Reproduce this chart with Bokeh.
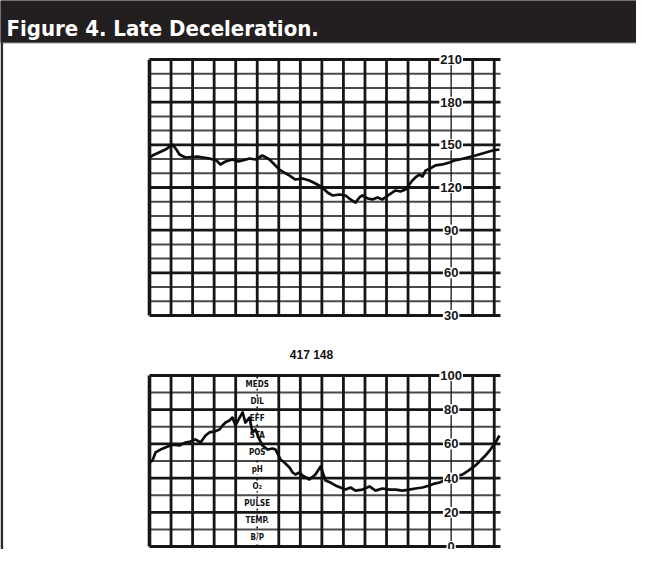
import numpy as np
from bokeh.plotting import figure
from bokeh.models import Range1d
from bokeh.core.properties import value
from bokeh.embed import file_html
from bokeh.resources import INLINE

# ---------------- data ----------------
title_text = "Figure 4. Late Deceleration."
strip_code = "417 148"

# fetal heart rate trace (time in s, bpm)
fhr_time = [0, 1.4, 7.4, 10.7, 12.5, 13.9, 16.7, 22.3, 27.8, 31.1, 32.9, 35.3, 38.5, 41.3,
            43.2, 46.4, 49.2, 52.4, 55.7, 58.0, 60.3, 62.6, 65.0, 67.7, 71.0, 74.2, 77.0,
            80.3, 82.6, 84.9, 88.2, 91.0, 93.3, 95.6, 97.4, 98.8, 101.2, 103.5, 105.8,
            108.1, 111.4, 114.2, 116.5, 118.8, 120.6, 122.0, 123.9, 125.3, 126.7, 128.1,
            130.4, 132.7, 136.0, 139.2, 141.5, 143.9, 147.6, 151.3, 154.5, 159.2, 162.4]
fhr_bpm = [141.1, 142.5, 146.7, 150.2, 146.7, 143.2, 141.1, 141.8, 140.4, 139.0, 136.2,
           138.3, 139.7, 138.3, 139.0, 140.4, 139.7, 142.5, 139.7, 136.2, 132.6, 130.5,
           128.4, 125.6, 126.3, 124.9, 122.8, 120.0, 116.5, 114.4, 115.1, 114.4, 111.6,
           109.4, 113.0, 114.4, 112.3, 111.6, 113.0, 111.6, 115.1, 117.9, 117.2, 118.6,
           122.1, 124.9, 127.7, 129.1, 127.7, 131.9, 133.4, 135.5, 136.2, 137.6, 139.0,
           139.7, 141.1, 142.5, 143.9, 146.0, 146.7]

# uterine activity trace (time in s, value)
uc_time = [0, 1.4, 2.8, 5.1, 7.4, 10.7, 13.9, 16.7, 19.0, 21.3, 23.7, 26.0, 27.8, 30.2,
           32.5, 33.9, 35.3, 37.1, 38.5, 39.9, 41.8, 43.2, 44.5, 46.4, 47.8, 49.2, 51.0,
           52.4, 54.8, 57.1, 58.5, 60.8, 62.6, 65.0, 66.4, 67.7, 69.6, 71.0, 74.2, 77.0,
           79.4, 81.7, 84.0, 86.3, 88.6, 91.0, 93.3, 95.6, 98.8, 102.1, 104.9, 108.1,
           111.4, 114.2, 117.4, 120.6, 123.4, 126.7, 129.9, 132.3, 134.6, 136.9, 139.2,
           142.0, 145.2, 148.0, 151.3, 153.6, 155.9, 158.2, 160.6, 162.4]
uc_val = [49.1, 50.3, 55.0, 56.7, 57.9, 59.6, 59.1, 60.8, 61.4, 62.6, 60.8, 64.9, 66.7,
          67.3, 68.4, 70.8, 72.5, 73.7, 75.4, 70.8, 75.4, 78.4, 72.5, 75.4, 66.7, 68.4,
          62.6, 59.1, 56.7, 57.3, 56.7, 50.9, 49.1, 46.2, 43.3, 42.1, 43.3, 41.5, 39.2,
          42.1, 46.8, 38.6, 37.4, 35.7, 34.5, 33.3, 34.5, 32.7, 33.3, 35.1, 32.7, 33.9,
          33.3, 33.3, 32.7, 33.3, 33.9, 34.5, 35.7, 36.8, 37.4, 38.6, 39.2, 40.9, 42.1,
          44.4, 47.4, 50.3, 53.2, 56.7, 60.8, 64.9]

fhr_ticks = [210, 180, 150, 120, 90, 60, 30]
uc_ticks = [100, 80, 60, 40, 20, 0]
chart_labels = ["MEDS", "DIL", "EFF", "STA", "POS", "pH", "O\u2082", "PULSE", "TEMP.", "B/P"]

T_END = 162.9          # visible strip length (s)
FHR_MIN, FHR_MAX = 30, 210
UC_MIN, UC_MAX = 0, 100
LABEL_T = 140          # time line carrying the scale numbers
NOTE_T = 50            # time line carrying the chart notes

COND = "'Noto Sans ExtraCondensed', 'Noto Sans Condensed', 'DejaVu Sans Condensed', 'Liberation Sans Narrow', Lato, sans-serif"

# ---------------- layout (canvas pixels) ----------------
W, H = 636, 549
CH_L, CH_R = 149, 500
TOP_Y_HI, TOP_Y_LO = 59, 315
BOT_Y_HI, BOT_Y_LO = 375, 546

ppx = (CH_R - CH_L) / T_END
ppb = (TOP_Y_LO - TOP_Y_HI) / (FHR_MAX - FHR_MIN)
ppu = (BOT_Y_LO - BOT_Y_HI) / (UC_MAX - UC_MIN)

p = figure(width=W, height=H, output_backend="svg", toolbar_location=None,
           x_range=Range1d(0, W), y_range=Range1d(H, 0),
           x_axis_location=None, y_axis_location=None, min_border=0)
p.outline_line_color = None
p.xgrid.visible = False
p.ygrid.visible = False
p.background_fill_color = "white"
p.border_fill_color = "white"

p.extra_x_ranges = {"t": Range1d(-CH_L / ppx, T_END + (W - CH_R) / ppx)}
p.extra_y_ranges = {
    "fhr": Range1d(FHR_MAX - (H - TOP_Y_HI) / ppb, FHR_MAX + TOP_Y_HI / ppb),
    "uc": Range1d(UC_MAX - (H - BOT_Y_HI) / ppu, UC_MAX + BOT_Y_HI / ppu),
}

# header bar & frame border
p.quad(left=[0], right=[W], top=[0], bottom=[42], color="#231f20")
p.segment(x0=[0], y0=[42.5], x1=[W], y1=[42.5], line_color="#a0a0a0", line_width=1)
p.segment(x0=[1.3], y0=[42], x1=[1.3], y1=[H], line_color="#2b2b2b", line_width=2.6)
p.text(x=[6], y=[27.5], text=[title_text], text_color="white",
       text_font=value(COND), text_font_style="bold",
       text_font_size="22px", text_baseline="alphabetic", text_align="left")

INK = "#161616"
GRAY = "#4a4a4a"


def strip(yname, lo, hi, step, major, skip_t):
    vt = np.arange(0, T_END, 10)
    hv = np.arange(lo, hi + 0.1, step)
    maj = [v for v in hv if (v - lo) % major == 0]
    mnr = [v for v in hv if (v - lo) % major != 0]
    p.segment(x0=[0] * len(mnr), y0=mnr, x1=[T_END] * len(mnr), y1=mnr,
              x_range_name="t", y_range_name=yname, line_color=GRAY, line_width=2.0)
    p.segment(x0=[0] * len(maj), y0=maj, x1=[T_END] * len(maj), y1=maj,
              x_range_name="t", y_range_name=yname, line_color=INK, line_width=2.8)
    vv = [t for t in vt if t not in skip_t and t != 0]
    p.segment(x0=vv, y0=[lo] * len(vv), x1=vv, y1=[hi] * len(vv),
              x_range_name="t", y_range_name=yname, line_color=INK, line_width=2.8)
    p.segment(x0=[0], y0=[lo], x1=[0], y1=[hi],
              x_range_name="t", y_range_name=yname, line_color=INK, line_width=3.6)
    p.segment(x0=[LABEL_T], y0=[lo], x1=[LABEL_T], y1=[hi],
              x_range_name="t", y_range_name=yname, line_color=INK, line_width=1.3)


# ---- top strip: fetal heart rate ----
strip("fhr", FHR_MIN, FHR_MAX, 10, 30, [LABEL_T])
p.line(fhr_time, fhr_bpm, x_range_name="t", y_range_name="fhr",
       line_color="#0d0d0d", line_width=2.7, line_join="round")
p.text(x=[LABEL_T] * len(fhr_ticks), y=fhr_ticks, text=[str(v) for v in fhr_ticks],
       x_range_name="t", y_range_name="fhr", text_align="center", text_baseline="middle",
       text_font=value("Liberation Sans"), text_font_style="bold", text_font_size="13px",
       text_color="#151515", background_fill_color="white", padding=1)

# ---- bottom strip: uterine activity ----
strip("uc", UC_MIN, UC_MAX, 10, 20, [LABEL_T, NOTE_T])
p.segment(x0=[NOTE_T], y0=[UC_MIN], x1=[NOTE_T], y1=[UC_MAX],
          x_range_name="t", y_range_name="uc", line_color=INK, line_width=1.6,
          line_dash="2 4")
note_y = [UC_MAX - 5 - 10 * i for i in range(len(chart_labels))]
p.text(x=[NOTE_T] * len(chart_labels), y=note_y, text=chart_labels,
       x_range_name="t", y_range_name="uc", text_align="center", text_baseline="middle",
       text_font=value(COND), text_font_style="bold",
       text_font_size="8px", text_color="#111111",
       background_fill_color="white", padding=0)
p.line(uc_time, uc_val, x_range_name="t", y_range_name="uc",
       line_color="#0d0d0d", line_width=2.7, line_join="round")
p.text(x=[LABEL_T] * len(uc_ticks), y=uc_ticks, text=[str(v) for v in uc_ticks],
       x_range_name="t", y_range_name="uc", text_align="center", text_baseline="middle",
       text_font=value("Liberation Sans"), text_font_style="bold", text_font_size="13px",
       text_color="#151515", background_fill_color="white", padding=1)

p.text(x=[311], y=[354], text=[strip_code], text_align="center", text_baseline="middle",
       text_font=value("Liberation Sans"), text_font_style="bold", text_font_size="12px",
       text_color="#111111")

open("out.html", "w").write(file_html(p, INLINE))
